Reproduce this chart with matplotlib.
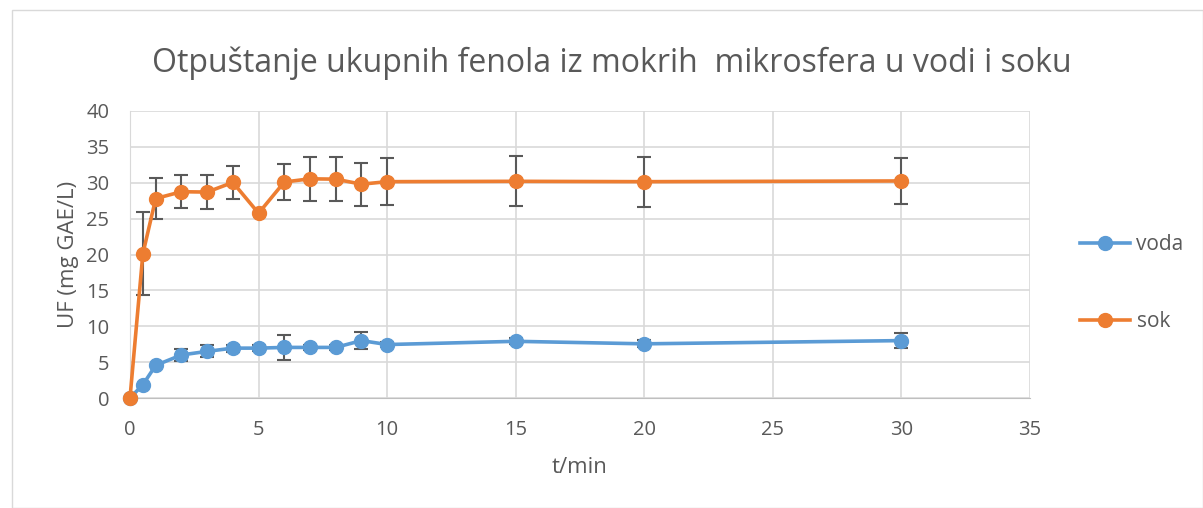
import matplotlib.pyplot as plt
from matplotlib.patches import Rectangle

t = [0, 0.5, 1, 2, 3, 4, 5, 6, 7, 8, 9, 10, 15, 20, 30]
voda = [0, 1.85, 4.55, 6.0, 6.5, 6.95, 6.95, 7.05, 7.05, 7.05, 8.0, 7.45, 7.9, 7.55, 8.0]
voda_err = [0, 0, 0, 0.85, 0.85, 0.5, 0.4, 1.7, 0.4, 0.4, 1.2, 0.4, 0.4, 0.5, 1.0]
sok = [0, 20.1, 27.8, 28.75, 28.7, 30.05, 25.75, 30.1, 30.55, 30.5, 29.8, 30.15, 30.2, 30.15, 30.25]
sok_err = [0, 5.8, 2.8, 2.3, 2.35, 2.35, 0, 2.5, 3.1, 3.05, 3.0, 3.3, 3.5, 3.5, 3.2]

txt = '#595959'
plt.rcParams['font.family'] = ['Open Sans', 'DejaVu Sans']

fig = plt.figure(figsize=(12.03, 5.08), dpi=100)
fig.patches.append(Rectangle((12/1203, 0), 1 - 12/1203, 1 - 10/508, transform=fig.transFigure,
                             fill=False, ec='#d9d9d9', lw=1))
ax = fig.add_axes([130/1203, 1 - 398/508, 900/1203, 287/508])

for y, e, c, lab in [(voda, voda_err, '#5b9bd5', 'voda'), (sok, sok_err, '#ed7d31', 'sok')]:
    ax.errorbar(t, y, yerr=e, fmt='none', ecolor='#595959', elinewidth=1.5, capsize=5, capthick=1.5, zorder=3)
    ax.plot(t, y, '-o', color=c, lw=2.6, ms=10, label=lab, zorder=4, clip_on=False)

ax.set_xlim(0, 35)
ax.set_ylim(0, 40)
ax.set_xticks(range(0, 36, 5))
ax.set_yticks(range(0, 41, 5))
ax.grid(True, color='#d9d9d9', lw=1.2)
ax.set_axisbelow(True)
for s in ['top', 'right']:
    ax.spines[s].set_visible(False)
ax.spines['left'].set_color('#d9d9d9')
ax.spines['bottom'].set_color('#bfbfbf')
ax.tick_params(length=0, labelsize=14.5, colors=txt)
ax.tick_params(axis='x', pad=16)
ax.tick_params(axis='y', pad=15)
ax.set_xlabel('t/min', fontsize=16, color=txt, labelpad=12)
ax.set_ylabel('UF (mg GAE/L)', fontsize=16, color=txt, labelpad=5)
ax.set_title('Otpuštanje ukupnih fenola iz mokrih  mikrosfera u vodi i soku',
             fontsize=23, color=txt, pad=28, x=0.535)
ax.legend(loc='center left', bbox_to_anchor=(1.035, 0.40), frameon=False, fontsize=15,
          labelcolor=txt, handlelength=2.4, labelspacing=2.7, handletextpad=0.3)

fig.savefig('out.png', dpi=100)
